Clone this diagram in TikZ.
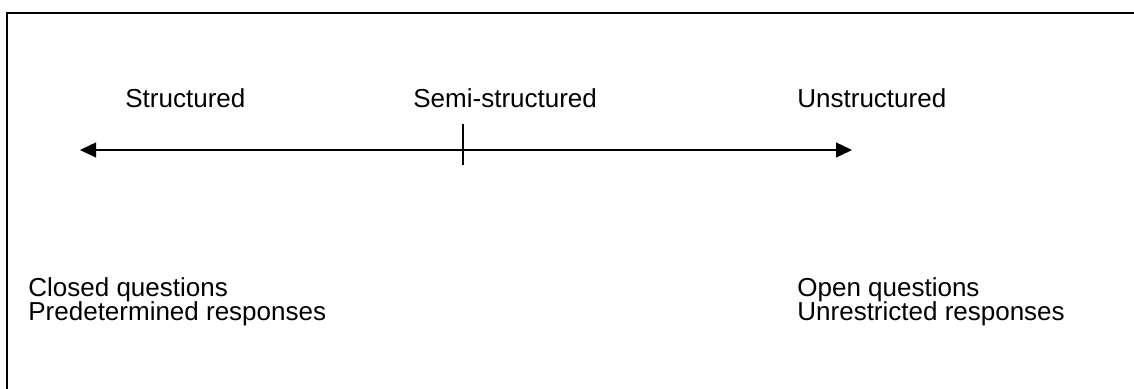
\documentclass[tikz,border=0pt]{standalone}
\usepackage{fontspec}
\setmainfont{Liberation Sans}
\usetikzlibrary{arrows.meta,positioning}

\begin{document}
\begin{tikzpicture}[x=0.5pt,y=-0.5pt,
    lbl/.style={anchor=base west,inner sep=0pt,font=\fontsize{13}{15}\selectfont},
    scaleline/.style={line width=0.65pt,{Triangle[length=8pt,width=7.5pt]}-{Triangle[length=8pt,width=7.5pt]}}]

    \useasboundingbox (0,0) rectangle (1134,389);

    % Frame: only the top and left edges show
    \draw[line width=1pt] (7,389) -- (7,13) -- (1134,13);

    % The three positions along the scale
    \node[lbl] (struct) at (125,108) {Structured};
    \node[lbl] (semi) at (413,108) {Semi-structured};
    \node[lbl] (unstruct) at (797,108) {Unstructured};

    % Double-headed scale with a tick for the middle
    \coordinate (lend) at (80,150);
    \coordinate (rend) at (852,150);
    \coordinate (ttop) at (463,124);
    \coordinate (tbot) at (463,165);
    \draw[scaleline] (lend) -- (rend);
    \draw[line width=0.65pt] (ttop) -- (tbot);
    \draw[line width=1.2pt] (391,150) -- (407,150);

    % What each end stands for
    \node[lbl] (closed) at (28,297) {Closed questions};
    \node[lbl] (predet) at (28,321) {Predetermined responses};
    \node[lbl] (open) at (797,297) {Open questions};
    \node[lbl] (unrestr) at (797,321) {Unrestricted responses};

\end{tikzpicture}
\end{document}
